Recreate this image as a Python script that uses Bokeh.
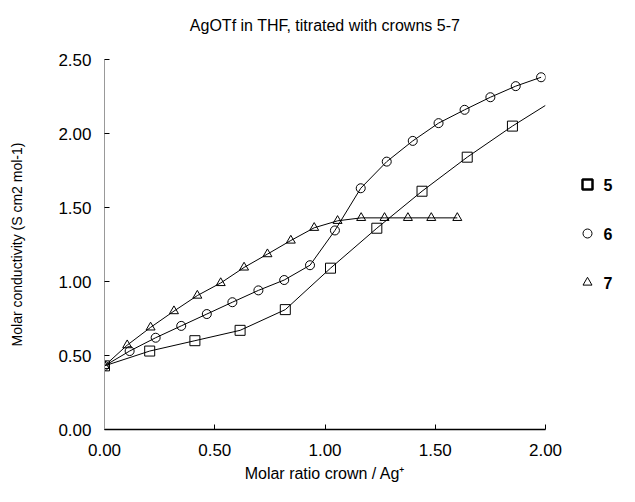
from bokeh.plotting import figure
from bokeh.layouts import row
from bokeh.models import FixedTicker, PrintfTickFormatter, Range1d
from bokeh.core.properties import value
from bokeh.embed import file_html
from bokeh.resources import INLINE

# ---- data ----
title_text = "AgOTf in THF, titrated with crowns 5-7"
x_label = "Molar ratio crown / Ag\u207a"
y_label = "Molar conductivity (S cm2 mol-1)"
x_ticks = [0.0, 0.5, 1.0, 1.5, 2.0]
y_ticks = [0.0, 0.5, 1.0, 1.5, 2.0, 2.5]

# crown 5 (squares); the fitted line continues to x = 2.0
sq_x = [0.0, 0.205, 0.41, 0.615, 0.82, 1.025, 1.235, 1.44, 1.645, 1.85]
sq_y = [0.43, 0.53, 0.60, 0.67, 0.81, 1.09, 1.36, 1.61, 1.84, 2.05]
sq_line_x = [0.0, 0.205, 0.41, 0.615, 0.82, 1.025, 1.235, 1.44, 1.645, 1.85, 2.0]
sq_line_y = [0.43, 0.53, 0.60, 0.67, 0.81, 1.09, 1.36, 1.61, 1.84, 2.05, 2.19]

# crown 6 (circles)
ci_x = [0.0, 0.114, 0.232, 0.348, 0.464, 0.58, 0.698, 0.815, 0.932, 1.045,
        1.162, 1.28, 1.398, 1.515, 1.633, 1.75, 1.865, 1.98]
ci_y = [0.43, 0.53, 0.62, 0.70, 0.78, 0.86, 0.94, 1.01, 1.11, 1.345,
        1.63, 1.81, 1.95, 2.07, 2.16, 2.245, 2.32, 2.38]

# crown 7 (triangles)
tr_x = [0.0, 0.103, 0.209, 0.315, 0.421, 0.527, 0.633, 0.739, 0.845, 0.951,
        1.057, 1.164, 1.27, 1.376, 1.482, 1.60]
tr_y = [0.43, 0.57, 0.69, 0.80, 0.905, 0.99, 1.095, 1.185, 1.277, 1.363,
        1.41, 1.43, 1.43, 1.43, 1.43, 1.43]

series_labels = ["5", "6", "7"]
series_markers = ["square", "circle", "triangle"]

FONT = "Liberation Sans"
H = 486
TOP, BOTTOM = 59, 57

# ---------------- main chart ----------------
p = figure(width=565, height=H, output_backend="svg", toolbar_location=None,
           x_range=Range1d(0, 2.0), y_range=Range1d(0, 2.5),
           min_border_left=104, min_border_right=20, min_border_top=TOP, min_border_bottom=BOTTOM)
p.outline_line_color = None
p.xgrid.visible = False
p.ygrid.visible = False
p.background_fill_color = "white"
p.border_fill_color = "white"

# title (a trailing empty line lifts it towards the top edge)
p.title.text = title_text + "\n"
p.title.align = "center"
p.title.vertical_align = "top"
p.title.text_font = FONT
p.title.text_font_size = "16px"
p.title.text_font_style = "normal"
p.title.text_color = "black"
p.title.standoff = 14

# axes
p.xaxis.ticker = FixedTicker(ticks=x_ticks)
p.yaxis.ticker = FixedTicker(ticks=y_ticks)
p.xaxis.formatter = PrintfTickFormatter(format="%.2f")
p.yaxis.formatter = PrintfTickFormatter(format="%.2f")
for ax in (p.xaxis, p.yaxis):
    ax.major_tick_in = 5
    ax.major_tick_out = 0
    ax.minor_tick_in = 0
    ax.minor_tick_out = 0
    ax.major_tick_line_color = "black"
    ax.major_label_text_font = FONT
    ax.major_label_text_font_size = "17px"
    ax.major_label_text_color = "black"
    ax.axis_label_text_font = FONT
    ax.axis_label_text_font_style = "normal"
    ax.axis_label_text_color = "black"
p.xaxis.axis_label_text_font_size = "16px"
p.yaxis.axis_label_text_font_size = "14px"
p.xaxis.axis_line_color = "black"
p.xaxis.axis_line_width = 1.5
p.yaxis.axis_line_color = "#999999"
p.yaxis.axis_line_width = 1
p.xaxis.major_label_standoff = 14
p.yaxis.major_label_standoff = 13
p.xaxis.axis_label = x_label
p.yaxis.axis_label = y_label
p.xaxis.axis_label_standoff = 6
p.yaxis.axis_label_standoff = 30

# lines
p.line(sq_line_x, sq_line_y, line_color="black", line_width=1)
p.line(ci_x, ci_y, line_color="black", line_width=1)
p.line(tr_x, tr_y, line_color="black", line_width=1)

# markers
p.scatter(sq_x, sq_y, marker="square", size=10, fill_alpha=0, line_color="black", line_width=1)
p.scatter(ci_x, ci_y, marker="circle", size=9, fill_alpha=0, line_color="black", line_width=1)
p.scatter(tr_x, tr_y, marker="triangle", size=9, fill_alpha=0, line_color="black", line_width=1)

# ---------------- key (legend) panel ----------------
LG_W = 619 - 565
key_glyph_x = 22
key_text_x = 38
key_rows_y = [184, 233, 282]   # page pixels from the top

k = figure(width=LG_W, height=H, output_backend="svg", toolbar_location=None,
           x_range=Range1d(0, LG_W), y_range=Range1d(H - BOTTOM, TOP),
           x_axis_type=None, y_axis_type=None,
           min_border_left=0, min_border_right=0, min_border_top=TOP, min_border_bottom=BOTTOM)
k.outline_line_color = None
k.xgrid.visible = False
k.ygrid.visible = False
k.background_fill_color = "white"
k.border_fill_color = "white"

key_sizes = [10, 9, 9]
key_widths = [2.5, 1, 1]
for m, s, w, yy in zip(series_markers, key_sizes, key_widths, key_rows_y):
    k.scatter([key_glyph_x], [yy], marker=m, size=s, fill_alpha=0,
              line_color="black", line_width=w)
k.text(x=[key_text_x] * 3, y=key_rows_y, text=series_labels,
       text_font=value(FONT), text_font_size="16px", text_font_style="bold",
       text_baseline="middle", text_align="left", text_color="black")

layout = row(p, k, spacing=0)
open("out.html", "w").write(file_html(layout, INLINE))
